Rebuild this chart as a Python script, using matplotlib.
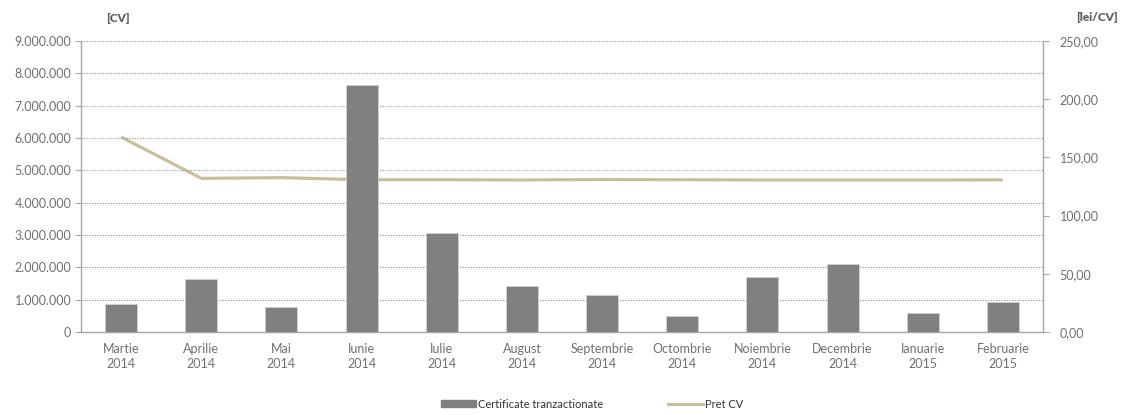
import matplotlib
matplotlib.use("Agg")
import matplotlib.pyplot as plt
from matplotlib.ticker import FuncFormatter, MultipleLocator
from matplotlib.patches import Patch
from matplotlib.lines import Line2D

categories = ["Martie\n2014", "Aprilie\n2014", "Mai\n2014", "Iunie\n2014", "Iulie\n2014",
              "August\n2014", "Septembrie\n2014", "Octombrie\n2014", "Noiembrie\n2014",
              "Decembrie\n2014", "Ianuarie\n2015", "Februarie\n2015"]
certificate = [870000, 1650000, 770000, 7640000, 3060000, 1420000, 1130000, 490000,
               1710000, 2110000, 590000, 940000]
pret = [167.5, 132.0, 132.6, 130.8, 130.8, 130.6, 131.0, 130.8, 130.6, 130.6, 130.6, 130.7]

plt.rcParams['font.family'] = ['Lato', 'DejaVu Sans']
txt = '#707070'
axcol = '#a6a6a6'

fig = plt.figure(figsize=(11.3, 4.15), dpi=100)
ax = fig.add_axes([81/1130, 1-332/415, (1043-81)/1130, (332-41)/415])
ax2 = ax.twinx()
ax.set_zorder(ax2.get_zorder() + 1)
ax.patch.set_visible(False)

x = list(range(len(categories)))
ax.bar(x, certificate, width=0.4, color='#808080', edgecolor='#d0d0d0', linewidth=0.6, zorder=3)
ax2.plot(x, pret, color='#c8bf9b', linewidth=2.3, solid_capstyle='butt', zorder=2)

ax.set_xlim(-0.5, len(categories) - 0.5)
ax.set_ylim(0, 9000000)
ax2.set_ylim(0, 250)
ax.yaxis.set_major_locator(MultipleLocator(1000000))
ax2.yaxis.set_major_locator(MultipleLocator(50))

def fmt_left(v, p):
    return f"{int(round(v)):,}".replace(",", ".")

def fmt_right(v, p):
    return f"{v:.2f}".replace(".", ",")

ax.yaxis.set_major_formatter(FuncFormatter(fmt_left))
ax2.yaxis.set_major_formatter(FuncFormatter(fmt_right))

ax.set_xticks(x)
ax.set_xticklabels(categories, fontsize=9, color=txt, linespacing=1.3)
ax.tick_params(axis='x', length=0, pad=8)
ax.tick_params(axis='y', labelsize=9, labelcolor=txt, length=4, color=axcol, width=0.8, pad=3)
ax2.tick_params(axis='y', labelsize=9, labelcolor=txt, length=4, color=axcol, width=0.8, pad=8)

ax.yaxis.grid(True, linestyle=(0, (1.2, 1.2)), color='#a0a0a0', linewidth=0.8, zorder=0)
ax.set_axisbelow(True)

for a in (ax, ax2):
    a.spines['top'].set_visible(False)
    for s in ('left', 'right', 'bottom'):
        a.spines[s].set_color(axcol)
        a.spines[s].set_linewidth(1.0)
ax.spines['right'].set_visible(False)
ax2.spines['left'].set_visible(False)
ax2.spines['bottom'].set_visible(False)

fig.text(118/1130, 1-18/415, "[CV]", fontsize=8.5, color='#606060', fontweight='heavy', ha='center', va='center')
fig.text(1097/1130, 1-17/415, "[lei/CV]", fontsize=8.5, color='#606060', fontweight='heavy', ha='center', va='center')

handles = [Patch(facecolor='#808080', edgecolor='#808080'),
           Line2D([0], [0], color='#c8bf9b', linewidth=2.3)]
leg = fig.legend(handles, ["Certificate tranzactionate", "Pret CV"], loc='center',
                 bbox_to_anchor=(592/1130, 1-404/415), ncol=2, frameon=False, fontsize=8,
                 handlelength=3.2, handleheight=0.5, handletextpad=0.15, columnspacing=5.8)
for t in leg.get_texts():
    t.set_color('#333333')

fig.savefig("out.png", dpi=100)
